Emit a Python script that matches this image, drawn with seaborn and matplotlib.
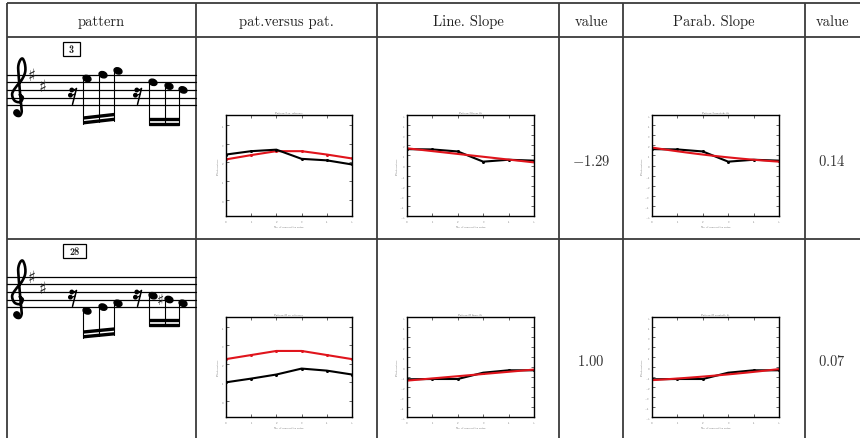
import numpy as np
import pandas as pd
import matplotlib
matplotlib.use("Agg")
import matplotlib.pyplot as plt
from matplotlib.patches import Ellipse, Rectangle, Circle
import seaborn as sns

# ---- table content -------------------------------------------------------
headers = ["pattern", "pat.versus pat.", "Line. Slope", "value", "Parab. Slope", "value"]
pattern_ids = ["3", "28"]

# note index along the pattern (x axis of every small plot)
note_index = [0, 1, 2, 3, 4, 5]

# pattern contour (black) against reference contour (red)
pattern_contour = [
    [2.42, 2.60, 2.68, 2.19, 2.11, 1.89],
    [1.01, 1.21, 1.43, 1.75, 1.64, 1.43],
]
reference_contour = [
    [2.16, 2.39, 2.60, 2.60, 2.42, 2.21],
    [2.26, 2.48, 2.70, 2.70, 2.48, 2.26],
]
# contour difference used for the linear / parabolic fits
contour_diff = [
    [1.62, 1.59, 1.39, 0.38, 0.57, 0.48],
    [-1.23, -1.20, -1.20, -0.57, -0.33, -0.33],
]
line_slope_values = ["-1.29", "1.00"]
parab_slope_values = ["0.14", "0.07"]

# pitches as staff steps (0 = bottom line E4, one step = half a space)
group1_steps = [[7, 8, 9], [-1, 0, 1]]
group2_steps = [[6, 5, 4], [3, 2, 1]]
group2_sharp = [None, 1]          # index of the note carrying a sharp

# ---- figure ---------------------------------------------------------------
W, H = 860, 439
sns.set_style("white")
plt.rcParams["font.family"] = ["cmr10", "DejaVu Sans"]
plt.rcParams["mathtext.fontset"] = "cm"
plt.rcParams["axes.formatter.use_mathtext"] = True
plt.rcParams["axes.unicode_minus"] = False

fig = plt.figure(figsize=(W / 100, H / 100), dpi=100)
fig.patch.set_facecolor("white")

bg = fig.add_axes([0, 0, 1, 1], zorder=0)
bg.set_xlim(0, W)
bg.set_ylim(H, 0)
bg.axis("off")

grid_col = "#3c3c3c"
col_x = [7, 196, 377, 559, 623, 805]
for x in col_x:
    bg.plot([x, x], [4, H], color=grid_col, lw=1.3, solid_capstyle="butt")
for y in [4, 38, 240]:
    bg.plot([col_x[0], W], [y, y], color=grid_col, lw=1.3, solid_capstyle="butt")

header_x = [101, 286, 468, 591, 714, 832]
for hx, txt in zip(header_x, headers):
    bg.text(hx, 22, txt, ha="center", va="center", fontsize=10.5, color="#222222")

row_top = [38, 240]
row_mid = [162, 362]
for r in range(2):
    bg.text(591, row_mid[r], "$" + line_slope_values[r] + "$", ha="center",
            va="center", fontsize=10.5, color="#333333")
    bg.text(832, row_mid[r], "$" + parab_slope_values[r] + "$", ha="center",
            va="center", fontsize=10.5, color="#333333")

# ---- music notation -------------------------------------------------------
sp = 7.6


def catmull_rom(pts, n=14):
    pts = np.asarray(pts, float)
    p = np.vstack([pts[0], pts, pts[-1]])
    out = []
    t = np.linspace(0, 1, n, endpoint=False)[:, None]
    for i in range(1, len(p) - 2):
        p0, p1, p2, p3 = p[i - 1], p[i], p[i + 1], p[i + 2]
        out.append(0.5 * ((2 * p1) + (-p0 + p2) * t
                          + (2 * p0 - 5 * p1 + 4 * p2 - p3) * t ** 2
                          + (-p0 + 3 * p1 - 3 * p2 + p3) * t ** 3))
    out.append(pts[-1][None, :])
    return np.vstack(out)


# G clef outline in staff spaces, origin on the G line, y upwards
clef_pts = [(0.1, 0.35), (0.5, 0.0), (0.15, -0.6), (-0.6, -0.4), (-0.9, 0.5),
            (-0.35, 1.45), (0.35, 2.3), (0.8, 3.3), (0.8, 4.3), (0.5, 5.1),
            (0.15, 4.9), (-0.1, 4.1), (-0.05, 3.0), (0.1, 1.0), (0.3, -1.0),
            (0.35, -1.9), (0.1, -2.4), (-0.35, -2.35), (-0.45, -1.95)]


def treble_clef(cx, g_y):
    c = catmull_rom(clef_pts)
    xs = cx + c[:, 0] * sp
    ys = g_y - c[:, 1] * sp
    bg.plot(xs, ys, color="black", lw=1.9, solid_capstyle="round", zorder=3)
    bg.add_patch(Circle((cx - 0.3 * sp, g_y + 2.0 * sp), 0.38 * sp,
                        color="black", zorder=3))


def sixteenth_rest(x, ytop):
    bg.plot([x + 3.5, x - 0.5], [ytop, ytop + 16], color="black", lw=1.1)
    bg.add_patch(Circle((x - 1.2, ytop + 1.6), 1.7, color="black"))
    bg.plot([x - 1.2, x + 3.5], [ytop + 2.4, ytop + 0.3], color="black", lw=0.9)
    bg.add_patch(Circle((x - 2.6, ytop + 6.8), 1.7, color="black"))
    bg.plot([x - 2.6, x + 2.4], [ytop + 7.6, ytop + 5.4], color="black", lw=0.9)


def note_group(xs, ys, beam_l, beam_r, sharp_idx=None):
    for i, (x, y) in enumerate(zip(xs, ys)):
        bg.add_patch(Ellipse((x, y), 8.2, 6.0, angle=22, color="black", zorder=3))
        sx = x - 3.7
        t = (sx - (xs[0] - 3.7)) / ((xs[-1] - 3.7) - (xs[0] - 3.7))
        by = beam_l + t * (beam_r - beam_l)
        bg.plot([sx, sx], [y + 1, by], color="black", lw=0.8, zorder=3)
        if sharp_idx is not None and i == sharp_idx:
            bg.text(x - 8.5, y, "\u266f", fontsize=11, ha="center", va="center",
                    family="DejaVu Sans", zorder=3)
    x0, x1 = xs[0] - 3.7, xs[-1] - 3.7
    for off in (0, -4.8):
        bg.plot([x0, x1], [beam_l + off - 1.2, beam_r + off - 1.2], color="black",
                lw=2.4, solid_capstyle="butt", zorder=3)


g1_x = [87, 103, 118]
g2_x = [153, 169, 183]
beams = [((125, 121.5), (126, 126)), ((339, 336), (327, 327))]
for r in range(2):
    top = row_top[r] + 37.7
    bottom = top + 4 * sp
    for k in range(5):
        yy = top + k * sp
        bg.plot([col_x[0], col_x[1]], [yy, yy], color="black", lw=0.9, zorder=2)
    # measure number box
    lab = pattern_ids[r]
    bw = 17 if len(lab) == 1 else 23
    bg.add_patch(Rectangle((63, row_top[r] + 5), bw, 14, fill=False,
                           edgecolor="black", lw=0.9))
    bg.text(63 + bw / 2, row_top[r] + 12.3, lab, ha="center", va="center",
            fontsize=7.5, family="cmb10")
    # clef and key signature (F sharp, C sharp)
    treble_clef(19, bottom - sp)
    bg.text(31.5, top, "\u266f", fontsize=12, ha="center", va="center",
            family="DejaVu Sans", zorder=3)
    bg.text(42.5, top + 1.5 * sp, "\u266f", fontsize=12, ha="center", va="center",
            family="DejaVu Sans", zorder=3)
    # rests
    sixteenth_rest(73, top + 2 * sp - 1.5)
    sixteenth_rest(138, top + 2 * sp - 1.5)
    ys1 = [bottom - s * sp / 2 for s in group1_steps[r]]
    ys2 = [bottom - s * sp / 2 for s in group2_steps[r]]
    note_group(g1_x, ys1, *beams[r][0])
    note_group(g2_x, ys2, *beams[r][1], sharp_idx=group2_sharp[r])

# ---- small plots -----------------------------------------------------------


def px_axes(x0, y0, x1, y1):
    return fig.add_axes([x0 / W, 1 - y1 / H, (x1 - x0) / W, (y1 - y0) / H], zorder=2)


def style_small(ax, title, yticks, ylim):
    ax.set_xlim(0, 5)
    ax.set_ylim(*ylim)
    ax.set_xticks(note_index)
    ax.set_yticks(yticks)
    ax.tick_params(direction="in", length=2, width=0.5, labelsize=2,
                   top=True, right=True, left=True, bottom=True, pad=1.5,
                   labelcolor="#555555")
    for s in ax.spines.values():
        s.set_color("black")
        s.set_linewidth(1.0)
    ax.set_title(title, fontsize=2, pad=1.5, color="#555555")
    ax.set_xlabel("No. of consecutive notes", fontsize=2, labelpad=1, color="#555555")
    ax.set_ylabel("Pitch contour", fontsize=2, labelpad=1, color="#555555")
    ax.set_facecolor("white")


red = "#e0141c"
rows_y = [(116, 217), (318, 418)]
for r in range(2):
    y0, y1 = rows_y[r]
    df = pd.DataFrame({"note": note_index,
                       "pattern": pattern_contour[r],
                       "reference": reference_contour[r],
                       "diff": contour_diff[r]})

    ax = px_axes(226, y0, 352, y1)
    sns.lineplot(data=df, x="note", y="reference", color=red, lw=1.5,
                 marker="o", markersize=2.2, markeredgewidth=0, ax=ax)
    sns.lineplot(data=df, x="note", y="pattern", color="black", lw=1.5,
                 marker="o", markersize=2.2, markeredgewidth=0, ax=ax)
    style_small(ax, f"Pattern {pattern_ids[r]} vs. reference",
                [0, 1, 2, 3, 4], (-0.86, 4.53))

    for x0, x1, order in [(407, 534, 1), (652, 779, 2)]:
        ax = px_axes(x0, y0, x1, y1)
        sns.lineplot(data=df, x="note", y="diff", color="black", lw=1.5,
                     marker="o", markersize=2.2, markeredgewidth=0, ax=ax)
        sns.regplot(data=df, x="note", y="diff", order=order, ci=None,
                    scatter=False, color=red, line_kws={"lw": 1.5}, ax=ax)
        name = "linear" if order == 1 else "parabolic"
        style_small(ax, f"Pattern {pattern_ids[r]} {name} fit",
                    list(range(-5, 6)), (-5, 5))

fig.savefig("out.png", dpi=100, facecolor="white")
